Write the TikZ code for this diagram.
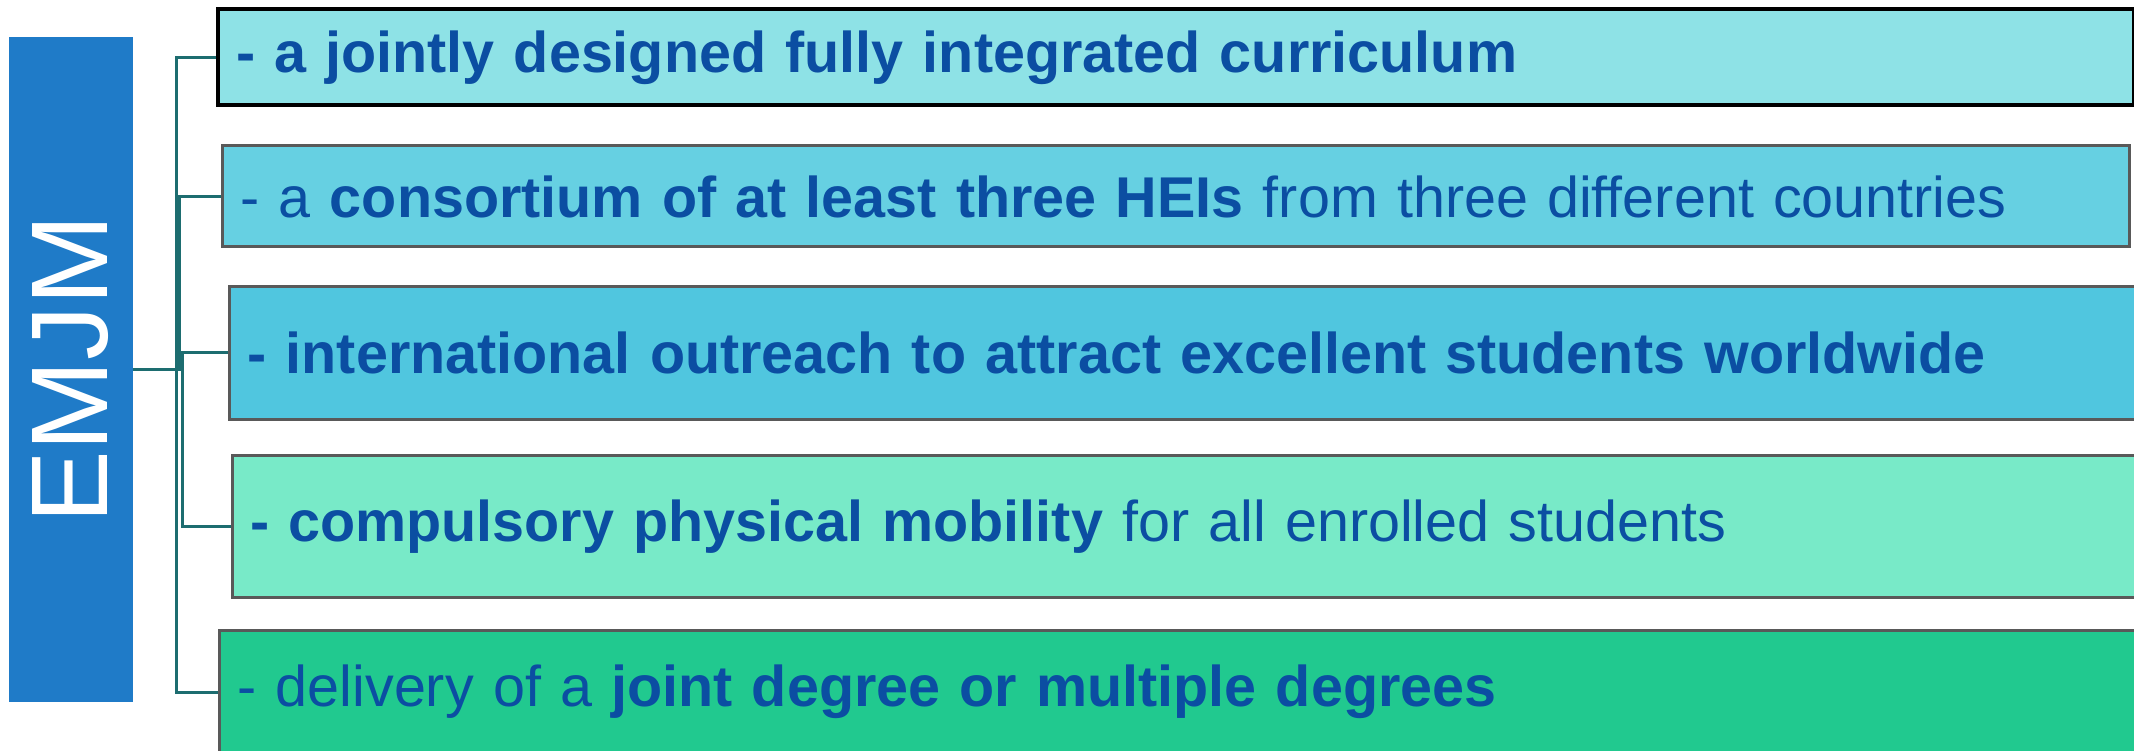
\documentclass[tikz,border=0pt]{standalone}
\usepackage{fontspec}
\setmainfont{Liberation Sans}
\usepackage{xcolor}
\usepackage{tikz}

\definecolor{emjmblue}{HTML}{1F7BC8}
\definecolor{linkteal}{HTML}{1D6D70}
\definecolor{textblue}{HTML}{0B4EA2}
\definecolor{fillone}{HTML}{8EE2E6}
\definecolor{filltwo}{HTML}{66D0E2}
\definecolor{fillthree}{HTML}{50C6DF}
\definecolor{fillfour}{HTML}{78EAC8}
\definecolor{fillfive}{HTML}{21C98F}
\definecolor{edgegray}{HTML}{595959}

\begin{document}
\begin{tikzpicture}[x=1pt, y=1pt,
  item/.style={draw=edgegray, line width=3pt, anchor=west, align=left,
    inner xsep=18pt, inner ysep=0pt, text=textblue,
    font=\fontsize{57.5}{70}\selectfont},
  link/.style={draw=linkteal, line width=3pt}]
\useasboundingbox (0,0) rectangle (2134,750);
\clip (0,0) rectangle (2134,750);

% Title bar on the left
\node[fill=emjmblue, minimum width=124pt, minimum height=665pt, inner sep=0pt] (emjm) at (71,380.5) {};
\node[rotate=90, text=white, font=\fontsize{109}{120}\selectfont] (emjmtext) at (emjm.center) {EMJM};

% The five features
\node[item, draw=black, line width=4pt, fill=fillone, text width=1880pt, minimum height=96pt] (box1) at (216,692.5)
  {\textbf{- a jointly designed fully integrated curriculum}};
\node[item, fill=filltwo, text width=1871pt, minimum height=101pt] (box2) at (221,553.5)
  {- a \textbf{consortium of at least three HEIs} from three different countries};
\node[item, fill=fillthree, text width=1896pt, minimum height=133pt] (box3) at (228,397)
  {\textbf{- international outreach to attract excellent students worldwide}};
\node[item, fill=fillfour, text width=1894pt, minimum height=142pt] (box4) at (230.5,223)
  {\textbf{- compulsory physical mobility} for all enrolled students};
\node[item, fill=fillfive, text width=1906pt, minimum height=122pt] (box5) at (218,58)
  {- delivery of a \textbf{joint degree or multiple degrees}};

% Tree connectors
\coordinate (trunka) at (176,0);
\coordinate (trunkb) at (179,0);
\coordinate (trunkc) at (182,0);
\draw[link] (emjm.east) -- ++(50,0);
\draw[link] (box1.west) -| (trunka |- box5.west) -- (box5.west);
\draw[link] (box2.west) -| (trunkb |- emjm.east);
\draw[link] (box3.west) -| (trunkc |- box4.west) -- (box4.west);
\end{tikzpicture}
\end{document}
